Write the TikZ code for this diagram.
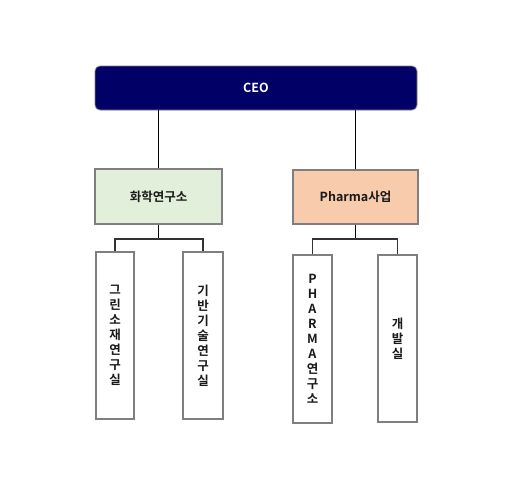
\documentclass[tikz,border=0pt]{standalone}
\usepackage{fontspec}
\setmainfont{Noto Sans CJK KR}[BoldFont={Noto Sans CJK KR Bold}]
\definecolor{navy}{HTML}{000066}
\definecolor{boxgray}{HTML}{7F7F7F}
\definecolor{chemgreen}{HTML}{E2EFDA}
\definecolor{pharmapeach}{HTML}{F8CBAD}
\definecolor{txt}{HTML}{1A1A1A}
\tikzset{
  topbox/.style={draw=boxgray, line width=0.8pt, fill=navy, rounded corners=5pt, text=white, font=\bfseries\fontsize{12.5}{14}\selectfont, inner sep=0pt},
  midbox/.style={draw=boxgray, line width=1.2pt, text=txt, font=\bfseries\fontsize{12.5}{14}\selectfont, inner sep=0pt},
  subbox/.style={draw=boxgray, line width=1.2pt, fill=white, text=txt, font=\bfseries\fontsize{12.5}{15}\selectfont, align=center, inner sep=0pt},
  link/.style={draw=black, line width=0.8pt},
  brk/.style={draw=black!80, line width=1.2pt}
}
\begin{document}
\begin{tikzpicture}[x=1pt,y=-1pt]
\useasboundingbox (0,0) rectangle (517,483);
\node[topbox, minimum width=322pt, minimum height=44pt] (ceo) at (256,88) {CEO};
\node[midbox, fill=chemgreen, minimum width=127pt, minimum height=55pt] (chem) at (158.5,196.5) {화학연구소};
\node[midbox, fill=pharmapeach, minimum width=125pt, minimum height=54pt] (pharma) at (355.5,197) {Pharma사업};
\node[subbox, minimum width=38pt, minimum height=167pt] (g1) at (115,335.5) {그\\린\\소\\재\\연\\구\\실};
\node[subbox, minimum width=40pt, minimum height=167pt] (g2) at (203,335.5) {기\\반\\기\\술\\연\\구\\실};
\node[subbox, minimum width=39pt, minimum height=168pt] (p1) at (312.5,339) {P\\H\\A\\R\\M\\A\\연\\구\\소};
\node[subbox, minimum width=39pt, minimum height=167pt] (p2) at (397.5,338.5) {개\\발\\실};
\draw[link] (ceo.south -| chem.north) -- (chem.north);
\draw[link] (ceo.south -| pharma.north) -- (pharma.north);
\coordinate (bl) at (158.5,239);
\coordinate (br) at (355.5,239);
\draw[link] (chem.south) -- (bl);
\draw[link] (pharma.south) -- (br);
\draw[brk] (g1.north) |- (bl) -| (g2.north);
\draw[brk] (p1.north) |- (br) -| (p2.north);
\end{tikzpicture}
\end{document}
